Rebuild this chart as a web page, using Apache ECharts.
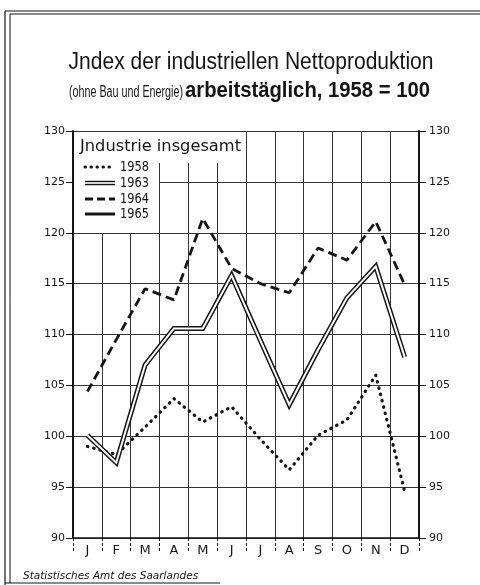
<!DOCTYPE html>
<html><head><meta charset="utf-8">
<script src="https://cdn.jsdelivr.net/npm/echarts@6/dist/echarts.min.js"></script>
<style>html,body{margin:0;padding:0;background:#fff}#c{width:480px;height:585px}</style>
</head><body><div id="c"></div>
<script>
const months = ['J','F','M','A','M','J','J','A','S','O','N','D'];
const years = ['1958','1963','1964','1965'];
const v1958 = [99.0, 98.2, 100.9, 103.7, 101.4, 102.9, 99.7, 96.7, 100.1, 101.6, 106.0, 94.6];
const v1963 = [100.1, 97.4, 107.0, 110.6, 110.6, 115.8, 109.4, 103.1, 108.5, 113.6, 116.7, 107.8];
const v1964 = [104.4, 109.5, 114.5, 113.4, 121.4, 116.5, 115.0, 114.1, 118.5, 117.3, 121.1, 114.9];
const v1965 = [];
const yMin = 90, yMax = 130, yStep = 5;
const titleText = 'Jndex der industriellen Nettoproduktion';
const subA = '(ohne Bau und Energie)';
const subB = 'arbeitstäglich, 1958 = 100';
const legendTitle = 'Jndustrie insgesamt';
const footer = 'Statistisches Amt des Saarlandes';

const INK = '#151515';
const FONT = "'Liberation Sans'";

// measure helper to condense text horizontally to a target width
const mctx = document.createElement('canvas').getContext('2d');
function fitScale(text, font, target) {
  mctx.font = font;
  return target / mctx.measureText(text).width;
}
const fTitle = "23px " + FONT;
const fSubA = "16px " + FONT;
const fSubB = "bold 22px " + FONT;
const fLegT = "15px 'DejaVu Sans'";
const fLeg = "14px 'DejaVu Sans'";
const sTitle = fitScale(titleText, fTitle, 365);
const sSubA = fitScale(subA, fSubA, 114);
const sSubB = fitScale(subB, fSubB, 245);
const sLegT = fitScale(legendTitle, fLegT, 161);
const sLeg = fitScale('1958', fLeg, 29);

const chart = echarts.init(document.getElementById('c'), null, {renderer:'canvas'});

const yAxisBase = {
  type:'value', min:yMin, max:yMax, interval:yStep,
  axisLine:{show:true, lineStyle:{color:INK, width:2}},
  axisTick:{show:true, length:7, lineStyle:{color:INK, width:1}},
  axisLabel:{color:INK, fontSize:11, fontFamily:'DejaVu Sans'},
};

const legendSample = (i, y) => {
  const x1 = 85, x2 = 115;
  if (i === 0) return [{type:'line', z:110, shape:{x1, y1:y, x2, y2:y}, style:{stroke:INK, lineWidth:3, lineDash:[0.5,5.5], lineCap:'round'}}];
  if (i === 1) return [
    {type:'line', z:110, shape:{x1, y1:y, x2, y2:y}, style:{stroke:INK, lineWidth:4.5}},
    {type:'line', z:111, shape:{x1, y1:y, x2, y2:y}, style:{stroke:'#fff', lineWidth:1.6}}];
  if (i === 2) return [{type:'line', z:110, shape:{x1, y1:y, x2, y2:y}, style:{stroke:INK, lineWidth:2.8, lineDash:[8,4]}}];
  return [{type:'line', z:110, shape:{x1, y1:y, x2, y2:y}, style:{stroke:INK, lineWidth:3}}];
};
const legendYs = [167, 183, 199, 214];
let legendEls = [];
years.forEach((yr, i) => {
  legendEls = legendEls.concat(legendSample(i, legendYs[i]));
  legendEls.push({type:'text', z:110, x:120, y:legendYs[i], scaleX:sLeg,
    style:{text:yr, x:0, y:0, fill:INK, font:fLeg, textVerticalAlign:'middle'}});
});

const option = {
  backgroundColor:'#fff',
  animation:false,
  grid:{left:73, right:61, top:131, bottom:47, containLabel:false},
  xAxis:{
    type:'category', data:months, boundaryGap:true,
    axisLine:{lineStyle:{color:INK, width:1.5}},
    axisTick:{show:true, length:14, lineStyle:{color:INK, width:1, type:[3,2]}},
    axisLabel:{color:INK, fontSize:13, fontFamily:'DejaVu Sans', margin:6, interval:0},
    splitLine:{show:true, lineStyle:{color:'#333', width:1}}
  },
  yAxis:[
    Object.assign({}, yAxisBase, {position:'left', axisLabel:Object.assign({}, yAxisBase.axisLabel, {margin:8}),
      splitLine:{show:true, lineStyle:{color:'#333', width:1}}}),
    Object.assign({}, yAxisBase, {position:'right', axisLabel:Object.assign({}, yAxisBase.axisLabel, {margin:10}),
      splitLine:{show:false}})
  ],
  series:[
    {name:years[0], type:'line', data:v1958, symbol:'none', z:3,
      lineStyle:{color:INK, width:3.2, type:[0.5,6], cap:'round'}},
    {name:years[1], type:'line', data:v1963, symbol:'none', z:4,
      lineStyle:{color:INK, width:5, join:'miter'}},
    {name:years[1]+'_inner', type:'line', data:v1963, symbol:'none', z:5,
      lineStyle:{color:'#fff', width:2, join:'miter'}},
    {name:years[2], type:'line', data:v1964, symbol:'none', z:3,
      lineStyle:{color:INK, width:2.8, type:[9,5]}},
    {name:years[3], type:'line', data:v1965, symbol:'none', z:3,
      lineStyle:{color:INK, width:3}}
  ],
  graphic:[
    // frame
    {type:'line', z:120, shape:{x1:5, y1:11, x2:480, y2:11}, style:{stroke:INK, lineWidth:1.2}},
    {type:'line', z:120, shape:{x1:10, y1:14, x2:480, y2:14}, style:{stroke:INK, lineWidth:1}},
    {type:'line', z:120, shape:{x1:5, y1:11, x2:5, y2:585}, style:{stroke:INK, lineWidth:1.2}},
    {type:'line', z:120, shape:{x1:10, y1:14, x2:10, y2:583}, style:{stroke:INK, lineWidth:1}},
    {type:'line', z:120, shape:{x1:5, y1:583, x2:220, y2:583}, style:{stroke:INK, lineWidth:1}},
    // titles (horizontally condensed to mimic the narrow lettering)
    {type:'text', z:120, x:251, y:63, scaleX:sTitle, style:{text:titleText, x:0, y:0, fill:INK, textAlign:'center', textVerticalAlign:'middle', font:fTitle}},
    {type:'text', z:120, x:183, y:93, scaleX:sSubA, style:{text:subA, x:0, y:0, fill:INK, textAlign:'right', textVerticalAlign:'middle', font:fSubA}},
    {type:'text', z:120, x:185, y:91, scaleX:sSubB, style:{text:subB, x:0, y:0, fill:INK, textAlign:'left', textVerticalAlign:'middle', font:fSubB}},
    // legend box (white panel over grid)
    {type:'rect', z:100, shape:{x:74, y:132, width:171, height:31}, style:{fill:'#fff'}},
    {type:'rect', z:100, shape:{x:74, y:132, width:85, height:101}, style:{fill:'#fff'}},
    {type:'text', z:110, x:80, y:147, scaleX:sLegT, style:{text:legendTitle, x:0, y:0, fill:INK, textVerticalAlign:'middle', font:fLegT}},
    ...legendEls,
    // footer
    {type:'text', z:120, style:{text:footer, x:23, y:576, fill:INK, textVerticalAlign:'middle', font:"italic 10.5px 'DejaVu Sans'"}}
  ]
};
chart.setOption(option);
</script></body></html>
